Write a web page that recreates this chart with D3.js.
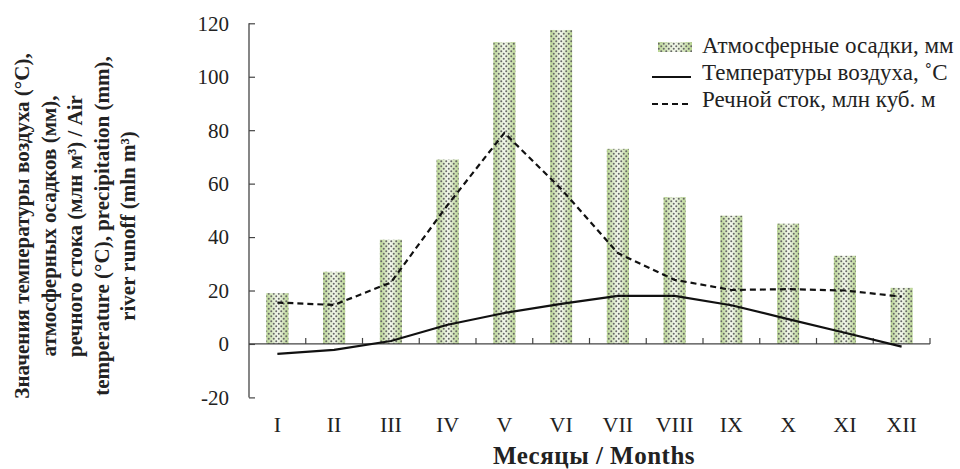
<!DOCTYPE html>
<html>
<head>
<meta charset="utf-8">
<script src="https://cdn.jsdelivr.net/npm/d3@7"></script>
<style>
  body { margin: 0; background: #fff; }
  text { font-family: "Liberation Serif", "Times New Roman", serif; }
</style>
</head>
<body>
<script>
const months = ["I", "II", "III", "IV", "V", "VI", "VII", "VIII", "IX", "X", "XI", "XII"];
const precipitation = [19, 27, 39, 69, 113, 117.5, 73, 55, 48, 45, 33, 21];
const temperature = [-3.7, -2.2, 1.1, 7.2, 11.6, 15, 18, 18, 14.5, 9.3, 4.2, -1];
const runoff = [15.5, 14.6, 23, 52, 79, 58, 34, 24, 20.2, 20.5, 20, 17.7];
const yTicks = [-20, 0, 20, 40, 60, 80, 100, 120];
const legendLabels = ["Атмосферные осадки, мм", "Температуры воздуха, ˚С", "Речной сток, млн куб. м"];
const yTitleLines = [
  "Значения температуры воздуха (°С),",
  "атмосферных осадков (мм),",
  "речного стока (млн м³) / Air",
  "temperature (°C), precipitation (mm),",
  "river runoff (mln m³)"
];

function main() {
  const width = 960, height = 469;
  const svg = d3.select("body").append("svg")
    .attr("width", width)
    .attr("height", height);

  const x = d3.scaleBand().domain(months).range([249, 930]);
  const y = d3.scaleLinear().domain([-20, 120]).range([397.4, 23.3]);

  const defs = svg.append("defs");
  const grad = defs.append("linearGradient").attr("id", "barGrad")
    .attr("x1", 0).attr("x2", 1).attr("y1", 0).attr("y2", 0);
  grad.append("stop").attr("offset", 0).attr("stop-color", "#b9d592");
  grad.append("stop").attr("offset", 0.5).attr("stop-color", "#f4f8ee");
  grad.append("stop").attr("offset", 1).attr("stop-color", "#b9d592");

  const pat = defs.append("pattern").attr("id", "dots")
    .attr("patternUnits", "userSpaceOnUse")
    .attr("width", 5).attr("height", 5);
  pat.append("circle").attr("cx", 1.25).attr("cy", 1.25).attr("r", 1).attr("fill", "#666");
  pat.append("circle").attr("cx", 3.75).attr("cy", 3.75).attr("r", 1).attr("fill", "#666");

  const barW = 22;
  const bars = svg.append("g");
  ["url(#barGrad)", "url(#dots)"].forEach(f => {
    bars.selectAll(null)
      .data(precipitation)
      .enter()
      .append("rect")
      .attr("x", (d, i) => x(months[i]) + x.bandwidth() / 2 - barW / 2)
      .attr("y", d => y(d))
      .attr("width", barW)
      .attr("height", d => y(0) - y(d))
      .attr("fill", f);
  });

  // axes
  const axisColor = "#444";
  const yAxis = svg.append("g").attr("transform", "translate(249,0)")
    .call(d3.axisRight(y).tickValues(yTicks).tickSize(6).tickFormat(""));
  yAxis.select(".domain").remove();
  yAxis.selectAll("line").attr("stroke", axisColor).attr("stroke-width", 1.2);
  svg.append("line")
    .attr("x1", 249).attr("x2", 249)
    .attr("y1", y(120)).attr("y2", y(-20))
    .attr("stroke", axisColor).attr("stroke-width", 1.3);

  svg.append("g").selectAll("text")
    .data(yTicks)
    .enter()
    .append("text")
    .attr("x", 229)
    .attr("y", d => y(d))
    .attr("dy", "0.35em")
    .attr("text-anchor", "end")
    .attr("font-size", "21px")
    .attr("fill", "#222")
    .text(d => d);

  svg.append("line")
    .attr("x1", 249).attr("x2", 930)
    .attr("y1", y(0)).attr("y2", y(0))
    .attr("stroke", axisColor).attr("stroke-width", 1.3);
  svg.append("g").selectAll("line")
    .data(months)
    .enter()
    .append("line")
    .attr("x1", d => x(d) + x.bandwidth())
    .attr("x2", d => x(d) + x.bandwidth())
    .attr("y1", y(0))
    .attr("y2", y(0) - 6)
    .attr("stroke", axisColor).attr("stroke-width", 1.2);

  svg.append("g").selectAll("text")
    .data(months)
    .enter()
    .append("text")
    .attr("x", d => x(d) + x.bandwidth() / 2)
    .attr("y", 432)
    .attr("text-anchor", "middle")
    .attr("font-size", "22px")
    .attr("fill", "#222")
    .text(d => d);

  // lines
  const line = d3.line()
    .x((d, i) => x(months[i]) + x.bandwidth() / 2)
    .y(d => y(d));

  svg.append("path")
    .attr("d", line(temperature))
    .attr("fill", "none")
    .attr("stroke", "#111")
    .attr("stroke-width", 2.2)
    .attr("stroke-linejoin", "round");

  svg.append("path")
    .attr("d", line(runoff))
    .attr("fill", "none")
    .attr("stroke", "#111")
    .attr("stroke-width", 2.2)
    .attr("stroke-dasharray", "6,4");

  // legend
  const lg = svg.append("g");
  lg.append("rect").attr("x", 658).attr("y", 42).attr("width", 34).attr("height", 10).attr("fill", "url(#barGrad)");
  lg.append("rect").attr("x", 658).attr("y", 42).attr("width", 34).attr("height", 10).attr("fill", "url(#dots)");
  lg.append("line").attr("x1", 652).attr("x2", 691).attr("y1", 77).attr("y2", 77)
    .attr("stroke", "#111").attr("stroke-width", 2.2);
  lg.append("line").attr("x1", 652).attr("x2", 691).attr("y1", 104).attr("y2", 104)
    .attr("stroke", "#111").attr("stroke-width", 2.2).attr("stroke-dasharray", "6,4");
  lg.selectAll("text")
    .data(legendLabels)
    .enter()
    .append("text")
    .attr("x", 702)
    .attr("y", (d, i) => 53 + i * 27)
    .attr("font-size", "23px")
    .attr("fill", "#222")
    .text(d => d);

  // axis titles
  svg.append("text")
    .attr("x", 594)
    .attr("y", 464)
    .attr("text-anchor", "middle")
    .attr("font-size", "25px")
    .attr("letter-spacing", "0.5px")
    .attr("font-weight", "bold")
    .attr("fill", "#222")
    .text("Месяцы / Months");

  const yt = svg.append("text")
    .attr("transform", "translate(22,226) rotate(-90)")
    .attr("text-anchor", "middle")
    .attr("font-size", "21px")
    .attr("font-weight", "bold")
    .attr("fill", "#222");
  yt.selectAll("tspan")
    .data(yTitleLines)
    .enter()
    .append("tspan")
    .attr("x", 0)
    .attr("y", (d, i) => i * 26.5)
    .attr("dy", "0.35em")
    .text(d => d);
}

main();
</script>
</body>
</html>
